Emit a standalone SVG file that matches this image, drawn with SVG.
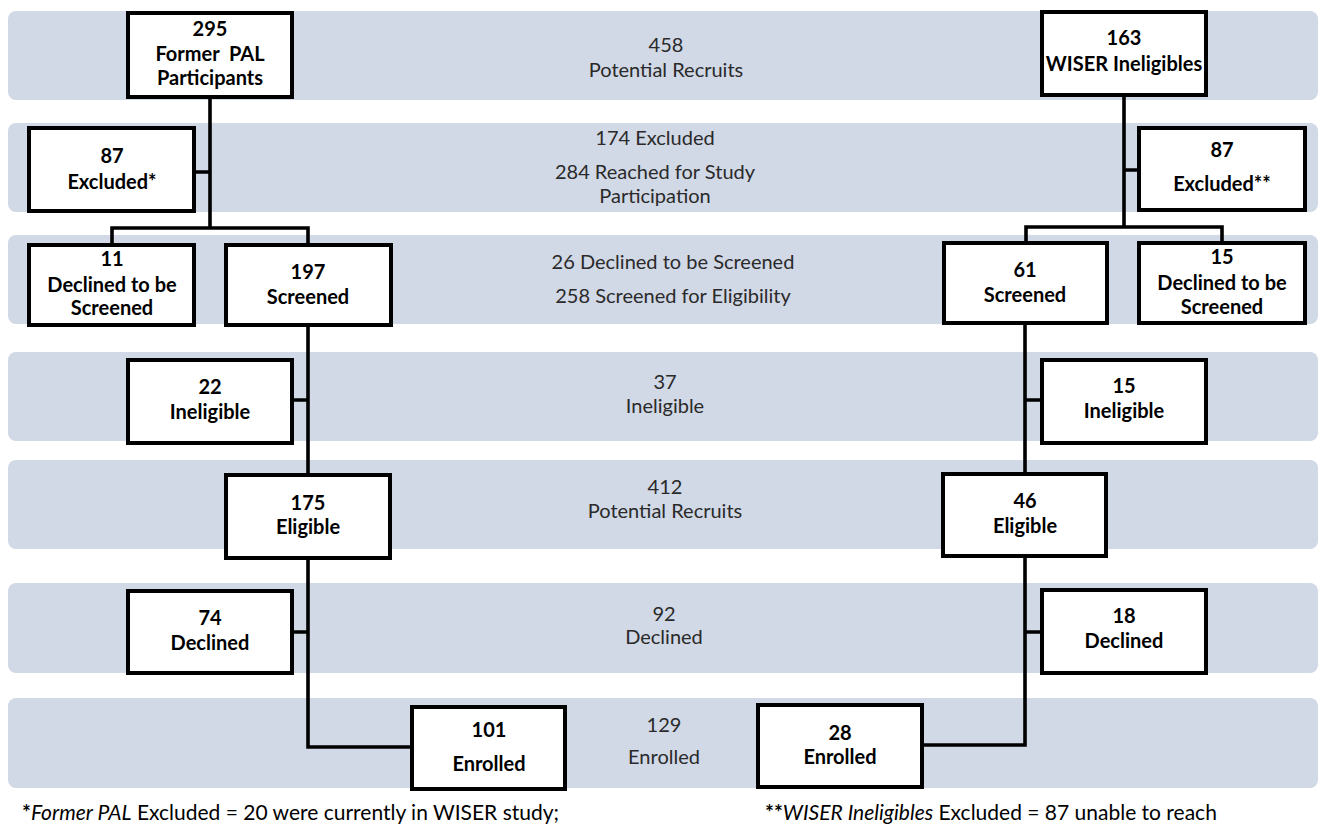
<svg xmlns="http://www.w3.org/2000/svg" width="1320" height="826" viewBox="0 0 1320 826">
<style>
.band{fill:#D1D8E6;}
.box{fill:#fff;stroke:#000;stroke-width:4;}
.bt{font-family:Lato,"Liberation Sans",sans-serif;font-weight:bold;font-size:20px;fill:#000;text-anchor:middle;}
.gt{font-family:Lato,"Liberation Sans",sans-serif;font-size:20px;fill:#2a2a2a;text-anchor:middle;}
.fn{font-family:Lato,"Liberation Sans",sans-serif;font-size:21px;fill:#000;}
.ln{fill:none;stroke:#000;stroke-width:3.6;}
</style>
<rect x="0" y="0" width="1320" height="826" fill="#fff"/>
<g id="bands">
<rect class="band" x="8" y="11" width="1310" height="89" rx="8"/>
<rect class="band" x="8" y="123" width="1310" height="89" rx="8"/>
<rect class="band" x="8" y="235" width="1310" height="89" rx="8"/>
<rect class="band" x="8" y="352" width="1310" height="89" rx="8"/>
<rect class="band" x="8" y="460" width="1310" height="89" rx="8"/>
<rect class="band" x="8" y="583" width="1310" height="90" rx="8"/>
<rect class="band" x="8" y="698" width="1310" height="90" rx="8"/>
</g>
<g id="band-labels">
<text class="gt" x="666" y="52">458</text>
<text class="gt" x="666" y="77">Potential Recruits</text>
<text class="gt" x="655" y="145">174 Excluded</text>
<text class="gt" x="655" y="179">284 Reached for Study</text>
<text class="gt" x="655" y="203">Participation</text>
<text class="gt" x="673" y="269">26 Declined to be Screened</text>
<text class="gt" x="673" y="303">258 Screened for Eligibility</text>
<text class="gt" x="665" y="389">37</text>
<text class="gt" x="665" y="413">Ineligible</text>
<text class="gt" x="665" y="494">412</text>
<text class="gt" x="665" y="518">Potential Recruits</text>
<text class="gt" x="664" y="621">92</text>
<text class="gt" x="664" y="644">Declined</text>
<text class="gt" x="664" y="732">129</text>
<text class="gt" x="664" y="764">Enrolled</text>
</g>
<g id="connectors">
<path class="ln" d="M210 97 V228 M112 245 V228 H308 V245 M194 172 H210"/>
<path class="ln" d="M308 325 V475 M292 400 H308"/>
<path class="ln" d="M308 558 V747 H412 M292 632 H308"/>
<path class="ln" d="M1124 95 V227 M1026 243 V227 H1222 V243 M1124 170 H1139"/>
<path class="ln" d="M1025 323 V474 M1025 400 H1042"/>
<path class="ln" d="M1025 556 V745 H922 M1025 632 H1042"/>
</g>
<g id="n295"><rect class="box" x="128" y="13" width="164" height="84"/>
<text class="bt" x="210" y="36">295</text><text class="bt" x="210" y="61" xml:space="preserve">Former  PAL</text><text class="bt" x="210" y="85">Participants</text></g>
<g id="n163"><rect class="box" x="1042" y="12" width="164" height="83"/>
<text class="bt" x="1124" y="45">163</text><text class="bt" x="1124" y="71">WISER Ineligibles</text></g>
<g id="n87a"><rect class="box" x="29" y="128" width="165" height="83"/>
<text class="bt" x="112" y="163">87</text><text class="bt" x="112" y="189">Excluded*</text></g>
<g id="n87b"><rect class="box" x="1139" y="128" width="166" height="82"/>
<text class="bt" x="1222" y="157">87</text><text class="bt" x="1222" y="191">Excluded**</text></g>
<g id="n11"><rect class="box" x="29" y="245" width="165" height="80"/>
<text class="bt" x="112" y="266">11</text><text class="bt" x="112" y="292">Declined to be</text><text class="bt" x="112" y="315">Screened</text></g>
<g id="n197"><rect class="box" x="226" y="245" width="165" height="80"/>
<text class="bt" x="308" y="279">197</text><text class="bt" x="308" y="304">Screened</text></g>
<g id="n61"><rect class="box" x="944" y="243" width="163" height="80"/>
<text class="bt" x="1025" y="277">61</text><text class="bt" x="1025" y="302">Screened</text></g>
<g id="n15d"><rect class="box" x="1139" y="243" width="166" height="80"/>
<text class="bt" x="1222" y="264">15</text><text class="bt" x="1222" y="290">Declined to be</text><text class="bt" x="1222" y="314">Screened</text></g>
<g id="n22"><rect class="box" x="128" y="360" width="164" height="83"/>
<text class="bt" x="210" y="394">22</text><text class="bt" x="210" y="419">Ineligible</text></g>
<g id="n15i"><rect class="box" x="1042" y="360" width="164" height="83"/>
<text class="bt" x="1124" y="393">15</text><text class="bt" x="1124" y="418">Ineligible</text></g>
<g id="n175"><rect class="box" x="226" y="475" width="164" height="83"/>
<text class="bt" x="308" y="510">175</text><text class="bt" x="308" y="534">Eligible</text></g>
<g id="n46"><rect class="box" x="943" y="474" width="163" height="82"/>
<text class="bt" x="1025" y="508">46</text><text class="bt" x="1025" y="533">Eligible</text></g>
<g id="n74"><rect class="box" x="128" y="591" width="164" height="82"/>
<text class="bt" x="210" y="625">74</text><text class="bt" x="210" y="650">Declined</text></g>
<g id="n18"><rect class="box" x="1042" y="590" width="164" height="83"/>
<text class="bt" x="1124" y="623">18</text><text class="bt" x="1124" y="648">Declined</text></g>
<g id="n101"><rect class="box" x="412" y="707" width="153" height="82"/>
<text class="bt" x="489" y="737">101</text><text class="bt" x="489" y="771">Enrolled</text></g>
<g id="n28"><rect class="box" x="758" y="705" width="164" height="82"/>
<text class="bt" x="840" y="740">28</text><text class="bt" x="840" y="764">Enrolled</text></g>
<g id="footnotes">
<text class="fn" x="22" y="820"><tspan font-weight="bold">*</tspan><tspan font-style="italic">Former PAL</tspan> Excluded = 20 were currently in WISER study;</text>
<text class="fn" x="765" y="820"><tspan font-weight="bold">**</tspan><tspan font-style="italic">WISER Ineligibles</tspan> Excluded = 87 unable to reach</text>
</g>
</svg>
